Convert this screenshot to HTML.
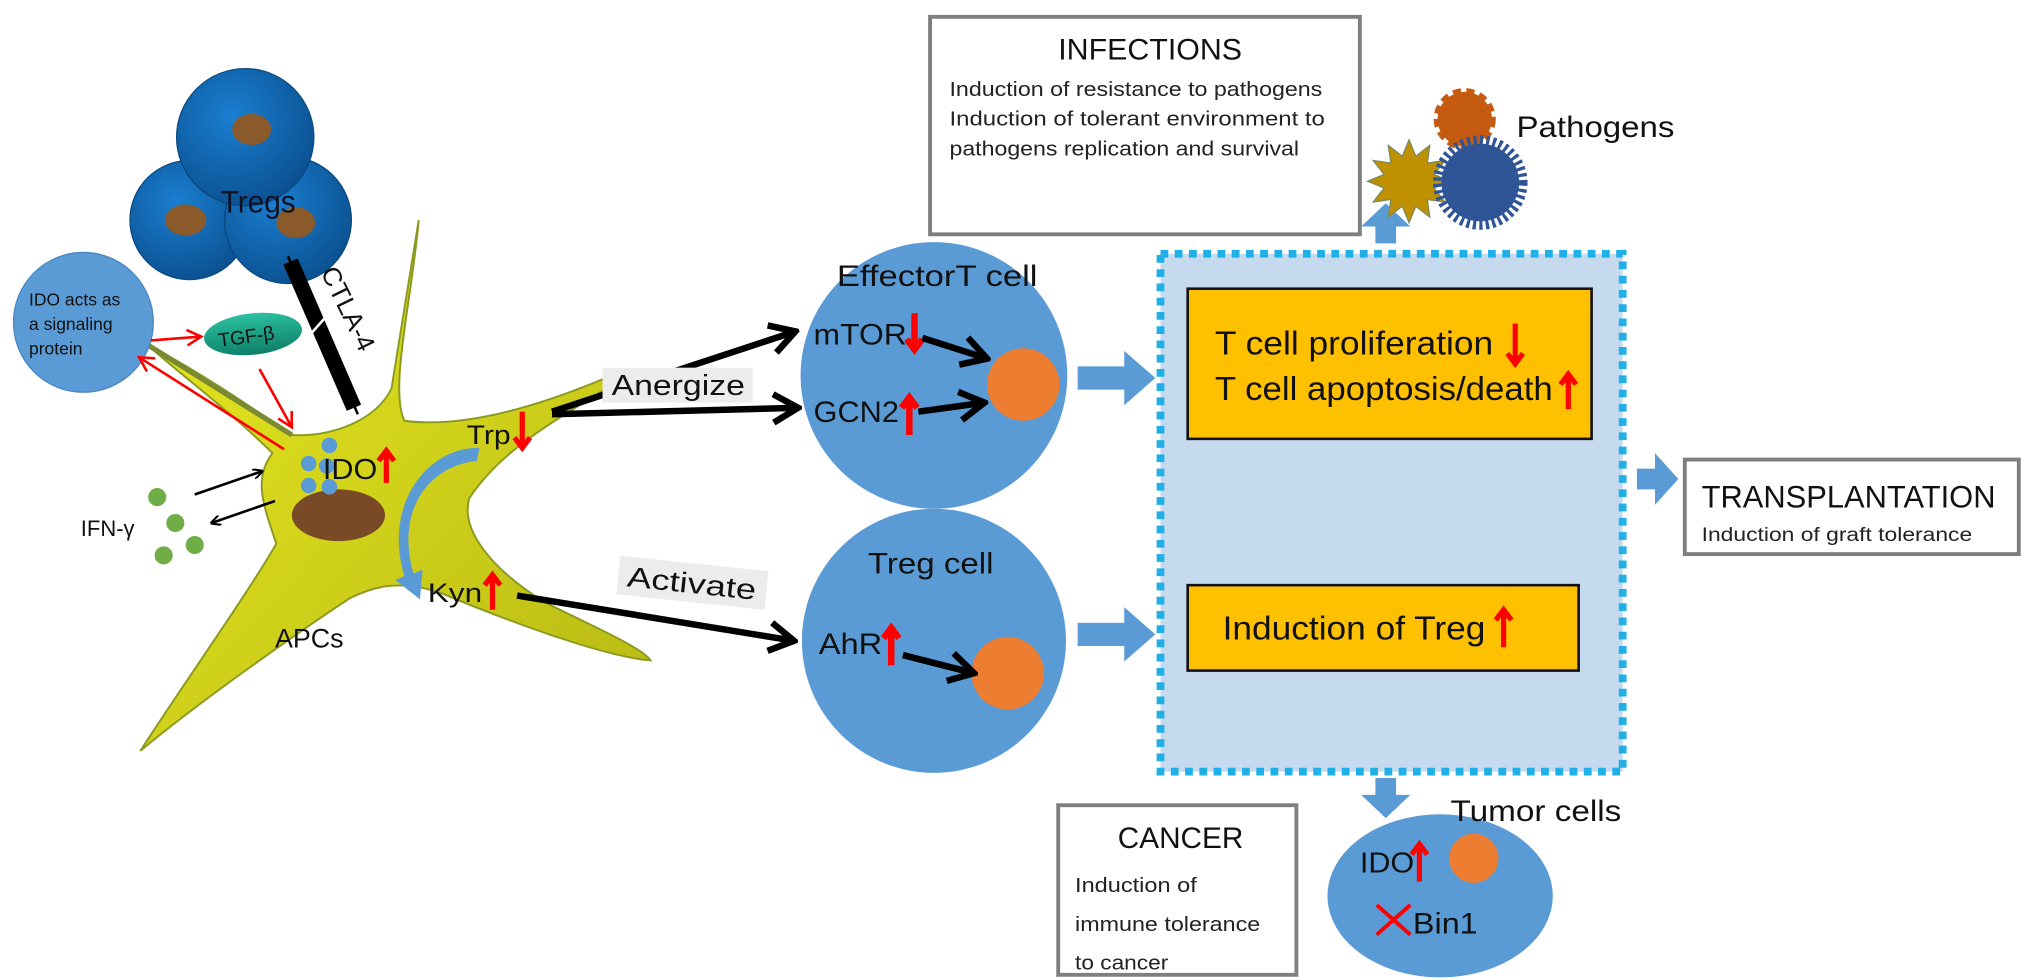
<!DOCTYPE html>
<html><head><meta charset="utf-8"><style>
html,body{margin:0;padding:0;background:#fff;}
svg{display:block;}
text{font-family:"Liberation Sans",sans-serif;}
</style></head><body>
<svg width="2031" height="980" viewBox="0 0 1568 757" xmlns="http://www.w3.org/2000/svg">
<defs>
<radialGradient id="tg" cx="0.4" cy="0.35" r="0.7"><stop offset="0" stop-color="#1a7fd0"/><stop offset="1" stop-color="#0b4f8f"/></radialGradient>
<linearGradient id="apc" x1="0" y1="0" x2="1" y2="1"><stop offset="0" stop-color="#e8ea20"/><stop offset="1" stop-color="#b8b814"/></linearGradient>
<linearGradient id="tgf" x1="0" y1="0" x2="0" y2="1"><stop offset="0" stop-color="#2cc0a0"/><stop offset="1" stop-color="#0e7f68"/></linearGradient>
<marker id="bk" markerWidth="8" markerHeight="8" refX="7" refY="4" orient="auto" markerUnits="userSpaceOnUse" viewBox="0 0 8 8"><path d="M0,0 L8,4 L0,8" fill="none" stroke="#000" stroke-width="1.6"/></marker>
<marker id="bkB" markerWidth="30" markerHeight="30" refX="27" refY="15" orient="auto" markerUnits="userSpaceOnUse"><path d="M8,4 L27,15 L8,26" fill="none" stroke="#000" stroke-width="5"/></marker>
<marker id="rd" markerWidth="14" markerHeight="14" refX="12" refY="7" orient="auto" markerUnits="userSpaceOnUse"><path d="M1,1 L12,7 L1,13" fill="none" stroke="#f00" stroke-width="2"/></marker>
</defs>

<!-- Tregs -->
<circle cx="146" cy="170" r="46" fill="url(#tg)" stroke="#0a4a80"/>
<circle cx="222" cy="170" r="49" fill="url(#tg)" stroke="#0a4a80"/>
<circle cx="189" cy="106" r="53" fill="url(#tg)" stroke="#0a4a80"/>
<ellipse cx="194" cy="100" rx="15" ry="12" fill="#8b5a2b"/>
<ellipse cx="143" cy="170" rx="16" ry="12" fill="#8b5a2b"/>
<ellipse cx="228" cy="172" rx="15" ry="12" fill="#8b5a2b"/>
<text x="170" y="164" font-size="24" fill="#112" textLength="58" lengthAdjust="spacingAndGlyphs">Tregs</text>

<!-- APC -->
<path d="M323,170 C318,230 300,300 312,325 C350,330 400,320 465,293 L468,300 C420,330 385,350 362,385 C355,410 380,440 420,465 C460,485 495,500 502,510 C470,508 400,483 340,458 C310,448 290,452 270,462 C220,495 150,545 108,580 C140,530 190,460 213,420 C203,390 195,370 210,350 C180,320 140,290 113,266 C150,285 190,312 225,336 C255,338 290,325 302,300 C310,250 318,200 323,170 Z" fill="url(#apc)" stroke="#8a9a20" stroke-width="1.5"/>
<ellipse cx="261" cy="398" rx="36" ry="20" fill="#7a4a26"/>
<g fill="#5b9bd5"><circle cx="254" cy="344" r="6"/><circle cx="238" cy="358" r="6"/><circle cx="252" cy="360" r="6"/><circle cx="238" cy="375" r="6"/><circle cx="254" cy="376" r="6"/></g>
<text x="249" y="370" font-size="22" fill="#111" textLength="42" lengthAdjust="spacingAndGlyphs">IDO</text>
<path d="M298,373 V350 M292,356 L298,348 L304,356" stroke="#f00" stroke-width="4" fill="none"/>
<text x="360" y="343" font-size="21" fill="#111" textLength="34" lengthAdjust="spacingAndGlyphs">Trp</text>
<path d="M403,318 V344 M397,338 L403,346 L409,338" stroke="#f00" stroke-width="4" fill="none"/>
<text x="330" y="465" font-size="21" fill="#111" textLength="42" lengthAdjust="spacingAndGlyphs">Kyn</text>
<path d="M380,471 V445 M374,452 L380,444 L386,452" stroke="#f00" stroke-width="4" fill="none"/>
<text x="212" y="500" font-size="21" fill="#111" textLength="53" lengthAdjust="spacingAndGlyphs">APCs</text>
<path d="M370,346 C330,345 295,390 312,445 L305,448 L324,463 L326,440 L319,443 C305,395 330,360 368,356 Z" fill="#5b9bd5"/>

<!-- CTLA-4 -->
<line x1="224" y1="202" x2="273" y2="315" stroke="#000" stroke-width="12"/>
<line x1="222" y1="198" x2="276" y2="320" stroke="#000" stroke-width="2"/>
<line x1="236" y1="262" x2="252" y2="244" stroke="#fff" stroke-width="2"/>
<text x="0" y="0" font-size="20" fill="#111" transform="translate(247,210) rotate(64)" textLength="70" lengthAdjust="spacingAndGlyphs">CTLA-4</text>

<!-- IDO circle -->
<line x1="113" y1="266" x2="225" y2="336" stroke="#7a8a30" stroke-width="4"/>
<circle cx="64" cy="249" r="54" fill="#5b9bd5" stroke="#4a86c0"/>
<text font-size="13.5" fill="#111"><tspan x="22" y="236">IDO acts as</tspan><tspan x="22" y="255">a signaling</tspan><tspan x="22" y="274">protein</tspan></text>
<ellipse cx="195" cy="258" rx="38" ry="16" fill="url(#tgf)" transform="rotate(-6 195 258)"/>
<text x="168" y="265" font-size="15" fill="#111" transform="rotate(-8 190 260)">TGF-β</text>
<line x1="116" y1="263" x2="155" y2="260" stroke="#f00" stroke-width="2" marker-end="url(#rd)"/>
<line x1="200" y1="285" x2="225" y2="330" stroke="#f00" stroke-width="2" marker-end="url(#rd)"/>
<line x1="219" y1="347" x2="107" y2="276" stroke="#f00" stroke-width="2" marker-end="url(#rd)"/>

<!-- IFN -->
<g fill="#70ad47"><circle cx="121" cy="384" r="7"/><circle cx="135" cy="404" r="7"/><circle cx="126" cy="429" r="7"/><circle cx="150" cy="421" r="7"/></g>
<text x="62" y="414" font-size="17" fill="#111">IFN-γ</text>
<line x1="150" y1="382" x2="202" y2="364" stroke="#000" stroke-width="2" marker-end="url(#bk)"/>
<line x1="212" y1="387" x2="163" y2="404" stroke="#000" stroke-width="2" marker-end="url(#bk)"/>

<!-- Anergize / Activate -->
<path d="M426,318 C480,300 540,280 614,256" stroke="#000" stroke-width="5" fill="none" marker-end="url(#bkB)"/>
<line x1="426" y1="320" x2="616" y2="315" stroke="#000" stroke-width="5" marker-end="url(#bkB)"/>
<rect x="465" y="284" width="116" height="27" fill="#ececec"/>
<text x="472" y="305" font-size="22" fill="#111" textLength="103" lengthAdjust="spacingAndGlyphs">Anergize</text>
<line x1="399" y1="460" x2="613" y2="495" stroke="#000" stroke-width="5" marker-end="url(#bkB)"/>
<g transform="rotate(6 533 450)"><rect x="477" y="435" width="115" height="30" fill="#ececec"/><text x="484" y="458" font-size="22" fill="#111" textLength="100" lengthAdjust="spacingAndGlyphs">Activate</text></g>

<!-- Effector T cell -->
<circle cx="721" cy="290" r="103" fill="#5b9bd5"/>
<text x="646" y="221" font-size="23" fill="#111" textLength="155" lengthAdjust="spacingAndGlyphs">EffectorT cell</text>
<text x="628" y="266" font-size="23" fill="#111" textLength="72" lengthAdjust="spacingAndGlyphs">mTOR</text>
<path d="M706,242 V268 M700,262 L706,270 L712,262" stroke="#f00" stroke-width="5" fill="none"/>
<text x="628" y="326" font-size="23" fill="#111" textLength="66" lengthAdjust="spacingAndGlyphs">GCN2</text>
<path d="M702,336 V308 M696,315 L702,307 L708,315" stroke="#f00" stroke-width="5" fill="none"/>
<circle cx="790" cy="297" r="28" fill="#ed7d31"/>
<line x1="712" y1="261" x2="762" y2="277" stroke="#000" stroke-width="5" marker-end="url(#bkB)"/>
<line x1="709" y1="318" x2="760" y2="311" stroke="#000" stroke-width="5" marker-end="url(#bkB)"/>

<!-- Treg cell -->
<circle cx="721" cy="495" r="102" fill="#5b9bd5"/>
<text x="670" y="443" font-size="23" fill="#111" textLength="97" lengthAdjust="spacingAndGlyphs">Treg cell</text>
<text x="632" y="505" font-size="23" fill="#111" textLength="49" lengthAdjust="spacingAndGlyphs">AhR</text>
<path d="M688,514 V486 M682,493 L688,485 L694,493" stroke="#f00" stroke-width="5" fill="none"/>
<circle cx="778" cy="520" r="28" fill="#ed7d31"/>
<line x1="697" y1="506" x2="752" y2="520" stroke="#000" stroke-width="5" marker-end="url(#bkB)"/>

<!-- block arrows -->
<g fill="#5b9bd5">
<path d="M832,283 H868 V271 L892,292 L868,313 V301 H832 Z"/>
<path d="M832,481 H868 V469 L892,490 L868,511 V499 H832 Z"/>
<path d="M1062,188 V175 H1051 L1070,157 L1089,175 H1078 V188 Z"/>
<path d="M1062,601 V614 H1051 L1070,632 L1089,614 H1078 V601 Z"/>
<path d="M1264,362 H1278 V350 L1296,370 L1278,390 V378 H1264 Z"/>
</g>

<!-- dotted box -->
<rect x="896" y="196" width="357" height="400" fill="#c5d9ef" stroke="#1fb0e8" stroke-width="6" stroke-dasharray="6 5"/>
<rect x="917" y="223" width="312" height="116" fill="#ffc000" stroke="#111" stroke-width="2"/>
<text x="938" y="274" font-size="26" fill="#111" textLength="215" lengthAdjust="spacingAndGlyphs">T cell proliferation</text>
<path d="M1170,250 V279 M1164,273 L1170,281 L1176,273" stroke="#f00" stroke-width="4" fill="none"/>
<text x="938" y="309" font-size="26" fill="#111" textLength="261" lengthAdjust="spacingAndGlyphs">T cell apoptosis/death</text>
<path d="M1211,316 V290 M1205,297 L1211,289 L1217,297" stroke="#f00" stroke-width="4" fill="none"/>
<rect x="917" y="452" width="302" height="66" fill="#ffc000" stroke="#111" stroke-width="2"/>
<text x="944" y="494" font-size="26" fill="#111" textLength="203" lengthAdjust="spacingAndGlyphs">Induction of Treg</text>
<path d="M1161,500 V472 M1155,479 L1161,471 L1167,479" stroke="#f00" stroke-width="4" fill="none"/>

<!-- INFECTIONS -->
<rect x="718" y="13" width="332" height="168" fill="#fff" stroke="#7f7f7f" stroke-width="3"/>
<text x="817" y="46" font-size="23" fill="#111" textLength="142" lengthAdjust="spacingAndGlyphs">INFECTIONS</text>
<text font-size="16" fill="#222"><tspan x="733" y="74" textLength="288" lengthAdjust="spacingAndGlyphs">Induction of resistance to pathogens</tspan><tspan x="733" y="97" textLength="290" lengthAdjust="spacingAndGlyphs">Induction of tolerant environment to</tspan><tspan x="733" y="120" textLength="270" lengthAdjust="spacingAndGlyphs">pathogens replication and survival</tspan></text>

<!-- pathogens -->
<circle cx="1131" cy="92" r="21" fill="#c55a11" stroke="#c55a11" stroke-width="6" stroke-dasharray="6 4"/>
<polygon points="1120,140 1107.3,145.2 1115.7,156 1102.1,154.1 1104,167.7 1093.2,159.3 1088,172 1082.8,159.3 1072,167.7 1073.9,154.1 1060.3,156 1068.7,145.2 1056,140 1068.7,134.8 1060.3,124 1073.9,125.9 1072,112.3 1082.8,120.7 1088,108 1093.2,120.7 1104,112.3 1102.1,125.9 1115.7,124 1107.3,134.8" fill="#bf9000" stroke="#7a8a60" stroke-width="1"/>
<circle cx="1143" cy="141" r="30" fill="#2f5597"/>
<circle cx="1143" cy="141" r="33" fill="none" stroke="#2f5597" stroke-width="7" stroke-dasharray="2.5 2.5"/>
<text x="1171" y="106" font-size="23" fill="#111" textLength="122" lengthAdjust="spacingAndGlyphs">Pathogens</text>

<!-- TRANSPLANTATION -->
<rect x="1301" y="355" width="258" height="73" fill="#fff" stroke="#7f7f7f" stroke-width="3"/>
<text x="1314" y="392" font-size="24" fill="#111" textLength="227" lengthAdjust="spacingAndGlyphs">TRANSPLANTATION</text>
<text x="1314" y="418" font-size="15" fill="#222" textLength="209" lengthAdjust="spacingAndGlyphs">Induction of graft tolerance</text>

<!-- CANCER -->
<rect x="817" y="622" width="184" height="131" fill="#fff" stroke="#7f7f7f" stroke-width="3"/>
<text x="863" y="655" font-size="23" fill="#111" textLength="97" lengthAdjust="spacingAndGlyphs">CANCER</text>
<text font-size="16" fill="#222"><tspan x="830" y="689" textLength="94" lengthAdjust="spacingAndGlyphs">Induction of</tspan><tspan x="830" y="719" textLength="143" lengthAdjust="spacingAndGlyphs">immune tolerance</tspan><tspan x="830" y="749" textLength="72" lengthAdjust="spacingAndGlyphs">to cancer</tspan></text>

<!-- Tumor -->
<ellipse cx="1112" cy="692" rx="87" ry="63" fill="#5b9bd5"/>
<text x="1120" y="634" font-size="23" fill="#111" textLength="132" lengthAdjust="spacingAndGlyphs">Tumor cells</text>
<text x="1050" y="674" font-size="22" fill="#111" textLength="42" lengthAdjust="spacingAndGlyphs">IDO</text>
<path d="M1096,681 V653 M1090,660 L1096,652 L1102,660" stroke="#f00" stroke-width="4" fill="none"/>
<circle cx="1138" cy="663" r="19" fill="#ed7d31"/>
<path d="M1063,699 L1089,722 M1089,699 L1063,722" stroke="#f00" stroke-width="3"/>
<text x="1091" y="721" font-size="23" fill="#111" textLength="50" lengthAdjust="spacingAndGlyphs">Bin1</text>
</svg>
</body></html>
